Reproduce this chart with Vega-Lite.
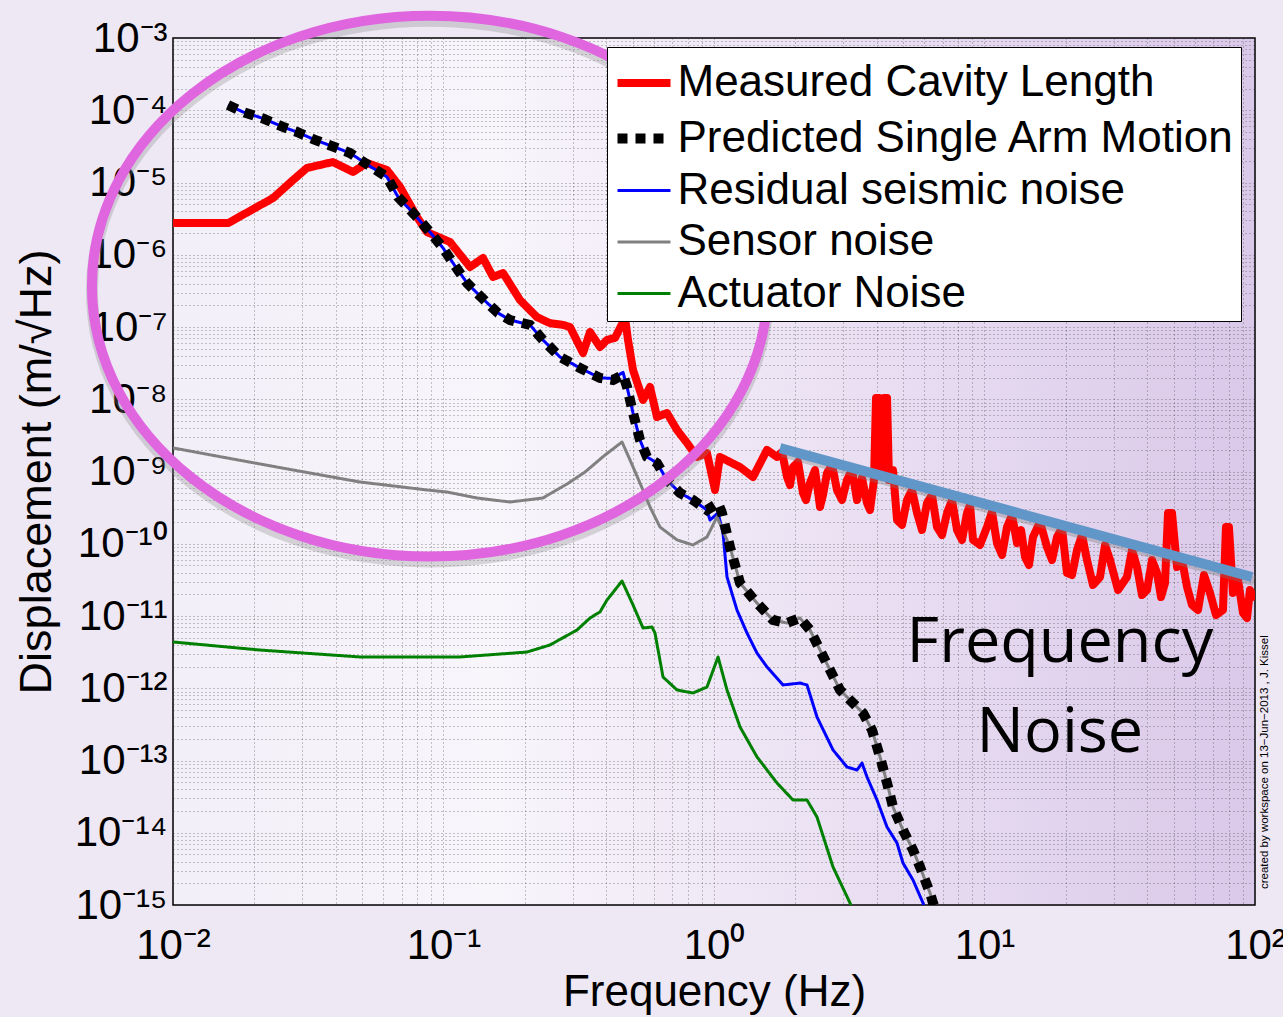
{
  "$schema": "https://vega.github.io/schema/vega-lite/v6.json",
  "width": 1082,
  "height": 867,
  "autosize": {"type": "none"},
  "padding": {"left": 173, "top": 38, "right": 28, "bottom": 112},
  "background": "#EEE7F4",
  "config": {
    "view": {
      "stroke": "#000000",
      "strokeWidth": 1.5,
      "fill": {"gradient": "linear", "x1": 0, "y1": 0, "x2": 1, "y2": 0,
        "stops": [{"offset": 0, "color": "#F3EFF8"}, {"offset": 0.3, "color": "#F8F5FB"}, {"offset": 1, "color": "#DAC8E9"}]}
    },
    "font": "Liberation Sans"
  },
  "datasets": {
    "curves": [
      {"s":"Measured Cavity Length","f":0.01,"v":2.75e-6},
      {"s":"Measured Cavity Length","f":0.016,"v":2.75e-6},
      {"s":"Measured Cavity Length","f":0.02344,"v":6.1e-6},
      {"s":"Measured Cavity Length","f":0.02777,"v":1.08e-5},
      {"s":"Measured Cavity Length","f":0.03129,"v":1.59e-5},
      {"s":"Measured Cavity Length","f":0.039,"v":1.92e-5},
      {"s":"Measured Cavity Length","f":0.0463,"v":1.4e-5},
      {"s":"Measured Cavity Length","f":0.0521,"v":1.86e-5},
      {"s":"Measured Cavity Length","f":0.0618,"v":1.49e-5},
      {"s":"Measured Cavity Length","f":0.0691,"v":8.67e-6},
      {"s":"Measured Cavity Length","f":0.0798,"v":3.33e-6},
      {"s":"Measured Cavity Length","f":0.0869,"v":2.06e-6},
      {"s":"Measured Cavity Length","f":0.1057,"v":1.5e-6},
      {"s":"Measured Cavity Length","f":0.1253,"v":6.76e-7},
      {"s":"Measured Cavity Length","f":0.14,"v":9.01e-7},
      {"s":"Measured Cavity Length","f":0.1524,"v":4.92e-7},
      {"s":"Measured Cavity Length","f":0.166,"v":5.58e-7},
      {"s":"Measured Cavity Length","f":0.1918,"v":2.36e-7},
      {"s":"Measured Cavity Length","f":0.2216,"v":1.37e-7},
      {"s":"Measured Cavity Length","f":0.2475,"v":1.13e-7},
      {"s":"Measured Cavity Length","f":0.2765,"v":1.07e-7},
      {"s":"Measured Cavity Length","f":0.2936,"v":1.0e-7},
      {"s":"Measured Cavity Length","f":0.328,"v":4.36e-8},
      {"s":"Measured Cavity Length","f":0.348,"v":8.53e-8},
      {"s":"Measured Cavity Length","f":0.379,"v":5.28e-8},
      {"s":"Measured Cavity Length","f":0.402,"v":6.61e-8},
      {"s":"Measured Cavity Length","f":0.4305,"v":7.05e-8},
      {"s":"Measured Cavity Length","f":0.469,"v":1.33e-7},
      {"s":"Measured Cavity Length","f":0.481,"v":6.61e-8},
      {"s":"Measured Cavity Length","f":0.502,"v":2.54e-8},
      {"s":"Measured Cavity Length","f":0.5465,"v":9.77e-9},
      {"s":"Measured Cavity Length","f":0.58,"v":1.48e-8},
      {"s":"Measured Cavity Length","f":0.6155,"v":5.68e-9},
      {"s":"Measured Cavity Length","f":0.67,"v":6.45e-9},
      {"s":"Measured Cavity Length","f":0.73,"v":3.75e-9},
      {"s":"Measured Cavity Length","f":0.795,"v":2.48e-9},
      {"s":"Measured Cavity Length","f":0.8653,"v":1.59e-9},
      {"s":"Measured Cavity Length","f":0.942,"v":1.8e-9},
      {"s":"Measured Cavity Length","f":1.0085,"v":5.55e-10},
      {"s":"Measured Cavity Length","f":1.052,"v":1.59e-9},
      {"s":"Measured Cavity Length","f":1.248,"v":1.15e-9},
      {"s":"Measured Cavity Length","f":1.394,"v":8.39e-10},
      {"s":"Measured Cavity Length","f":1.57,"v":1.99e-9},
      {"s":"Measured Cavity Length","f":1.71,"v":1.59e-9},
      {"s":"Measured Cavity Length","f":1.784,"v":1.862e-9},
      {"s":"Measured Cavity Length","f":1.862,"v":8.39e-10},
      {"s":"Measured Cavity Length","f":1.91,"v":6.5e-10},
      {"s":"Measured Cavity Length","f":1.959,"v":1.15e-9},
      {"s":"Measured Cavity Length","f":2.045,"v":1.353e-9},
      {"s":"Measured Cavity Length","f":2.133,"v":5.04e-10},
      {"s":"Measured Cavity Length","f":2.188,"v":4.03e-10},
      {"s":"Measured Cavity Length","f":2.264,"v":6.93e-10},
      {"s":"Measured Cavity Length","f":2.363,"v":1.048e-9},
      {"s":"Measured Cavity Length","f":2.466,"v":3.23e-10},
      {"s":"Measured Cavity Length","f":2.529,"v":4.73e-10},
      {"s":"Measured Cavity Length","f":2.617,"v":9.53e-10},
      {"s":"Measured Cavity Length","f":2.731,"v":1.23e-9},
      {"s":"Measured Cavity Length","f":2.849,"v":5.55e-10},
      {"s":"Measured Cavity Length","f":2.973,"v":4.03e-10},
      {"s":"Measured Cavity Length","f":3.102,"v":7.63e-10},
      {"s":"Measured Cavity Length","f":3.237,"v":1.048e-9},
      {"s":"Measured Cavity Length","f":3.379,"v":4.03e-10},
      {"s":"Measured Cavity Length","f":3.525,"v":8.13e-10},
      {"s":"Measured Cavity Length","f":3.679,"v":3.66e-10},
      {"s":"Measured Cavity Length","f":3.773,"v":2.93e-10},
      {"s":"Measured Cavity Length","f":3.904,"v":7.63e-10},
      {"s":"Measured Cavity Length","f":3.971,"v":1.04e-8},
      {"s":"Measured Cavity Length","f":4.074,"v":1.04e-8},
      {"s":"Measured Cavity Length","f":4.145,"v":8.94e-10},
      {"s":"Measured Cavity Length","f":4.252,"v":1.04e-8},
      {"s":"Measured Cavity Length","f":4.362,"v":1.04e-8},
      {"s":"Measured Cavity Length","f":4.436,"v":7.63e-10},
      {"s":"Measured Cavity Length","f":4.59,"v":1.048e-9},
      {"s":"Measured Cavity Length","f":4.749,"v":2.13e-10},
      {"s":"Measured Cavity Length","f":4.955,"v":1.82e-10},
      {"s":"Measured Cavity Length","f":5.17,"v":4.03e-10},
      {"s":"Measured Cavity Length","f":5.395,"v":5.55e-10},
      {"s":"Measured Cavity Length","f":5.631,"v":2.66e-10},
      {"s":"Measured Cavity Length","f":5.875,"v":1.55e-10},
      {"s":"Measured Cavity Length","f":6.131,"v":3.66e-10},
      {"s":"Measured Cavity Length","f":6.395,"v":4.73e-10},
      {"s":"Measured Cavity Length","f":6.674,"v":1.7e-10},
      {"s":"Measured Cavity Length","f":6.965,"v":1.32e-10},
      {"s":"Measured Cavity Length","f":7.268,"v":2.66e-10},
      {"s":"Measured Cavity Length","f":7.585,"v":4.03e-10},
      {"s":"Measured Cavity Length","f":7.914,"v":1.55e-10},
      {"s":"Measured Cavity Length","f":8.258,"v":1.126e-10},
      {"s":"Measured Cavity Length","f":8.616,"v":2.66e-10},
      {"s":"Measured Cavity Length","f":8.84,"v":3.44e-10},
      {"s":"Measured Cavity Length","f":9.07,"v":1.13e-10},
      {"s":"Measured Cavity Length","f":9.625,"v":9.61e-11},
      {"s":"Measured Cavity Length","f":10.21,"v":1.7e-10},
      {"s":"Measured Cavity Length","f":10.66,"v":2.75e-10},
      {"s":"Measured Cavity Length","f":11.12,"v":1.02e-10},
      {"s":"Measured Cavity Length","f":11.61,"v":6.99e-11},
      {"s":"Measured Cavity Length","f":12.11,"v":1.7e-10},
      {"s":"Measured Cavity Length","f":12.64,"v":2.5e-10},
      {"s":"Measured Cavity Length","f":13.19,"v":1.02e-10},
      {"s":"Measured Cavity Length","f":13.65,"v":1.55e-10},
      {"s":"Measured Cavity Length","f":14.12,"v":6.55e-11},
      {"s":"Measured Cavity Length","f":14.6,"v":5.08e-11},
      {"s":"Measured Cavity Length","f":15.11,"v":1.24e-10},
      {"s":"Measured Cavity Length","f":16.04,"v":2.0e-10},
      {"s":"Measured Cavity Length","f":17.02,"v":9.02e-11},
      {"s":"Measured Cavity Length","f":17.77,"v":5.96e-11},
      {"s":"Measured Cavity Length","f":18.54,"v":1.24e-10},
      {"s":"Measured Cavity Length","f":19.34,"v":1.65e-10},
      {"s":"Measured Cavity Length","f":20.18,"v":3.94e-11},
      {"s":"Measured Cavity Length","f":21.06,"v":3.69e-11},
      {"s":"Measured Cavity Length","f":21.98,"v":8.19e-11},
      {"s":"Measured Cavity Length","f":22.94,"v":1.32e-10},
      {"s":"Measured Cavity Length","f":23.93,"v":5.96e-11},
      {"s":"Measured Cavity Length","f":25.18,"v":2.69e-11},
      {"s":"Measured Cavity Length","f":26.73,"v":3.46e-11},
      {"s":"Measured Cavity Length","f":27.9,"v":9.61e-11},
      {"s":"Measured Cavity Length","f":29.11,"v":5.96e-11},
      {"s":"Measured Cavity Length","f":31.16,"v":2.29e-11},
      {"s":"Measured Cavity Length","f":33.63,"v":3.46e-11},
      {"s":"Measured Cavity Length","f":35.1,"v":8.19e-11},
      {"s":"Measured Cavity Length","f":36.63,"v":4.76e-11},
      {"s":"Measured Cavity Length","f":38.22,"v":1.95e-11},
      {"s":"Measured Cavity Length","f":39.89,"v":2.29e-11},
      {"s":"Measured Cavity Length","f":41.63,"v":5.96e-11},
      {"s":"Measured Cavity Length","f":43.43,"v":3.94e-11},
      {"s":"Measured Cavity Length","f":44.93,"v":1.83e-11},
      {"s":"Measured Cavity Length","f":46.49,"v":2.86e-11},
      {"s":"Measured Cavity Length","f":47.69,"v":2.66e-10},
      {"s":"Measured Cavity Length","f":49.34,"v":2.66e-10},
      {"s":"Measured Cavity Length","f":51.49,"v":4.76e-11},
      {"s":"Measured Cavity Length","f":53.74,"v":5.96e-11},
      {"s":"Measured Cavity Length","f":56.08,"v":2.52e-11},
      {"s":"Measured Cavity Length","f":58.5,"v":1.42e-11},
      {"s":"Measured Cavity Length","f":61.54,"v":1.21e-11},
      {"s":"Measured Cavity Length","f":64.78,"v":3.69e-11},
      {"s":"Measured Cavity Length","f":68.19,"v":2.08e-11},
      {"s":"Measured Cavity Length","f":71.77,"v":1.03e-11},
      {"s":"Measured Cavity Length","f":76.14,"v":1.21e-11},
      {"s":"Measured Cavity Length","f":78.1,"v":1.7e-10},
      {"s":"Measured Cavity Length","f":80.1,"v":1.7e-10},
      {"s":"Measured Cavity Length","f":82.9,"v":2.08e-11},
      {"s":"Measured Cavity Length","f":86.55,"v":3.15e-11},
      {"s":"Measured Cavity Length","f":90.3,"v":1.1e-11},
      {"s":"Measured Cavity Length","f":93.43,"v":9.38e-12},
      {"s":"Measured Cavity Length","f":95.8,"v":2.29e-11},
      {"s":"Measured Cavity Length","f":100,"v":1.66e-11},

      {"s":"Predicted Single Arm Motion","f":0.01597,"v":1.182e-4},
      {"s":"Predicted Single Arm Motion","f":0.01815,"v":9.46e-5},
      {"s":"Predicted Single Arm Motion","f":0.0215,"v":7.72e-5},
      {"s":"Predicted Single Arm Motion","f":0.02551,"v":5.87e-5},
      {"s":"Predicted Single Arm Motion","f":0.02873,"v":5.0e-5},
      {"s":"Predicted Single Arm Motion","f":0.0335,"v":3.88e-5},
      {"s":"Predicted Single Arm Motion","f":0.0404,"v":3.0e-5},
      {"s":"Predicted Single Arm Motion","f":0.0451,"v":2.56e-5},
      {"s":"Predicted Single Arm Motion","f":0.0526,"v":1.75e-5},
      {"s":"Predicted Single Arm Motion","f":0.0618,"v":1.19e-5},
      {"s":"Predicted Single Arm Motion","f":0.0679,"v":6.3e-6},
      {"s":"Predicted Single Arm Motion","f":0.0784,"v":3.55e-6},
      {"s":"Predicted Single Arm Motion","f":0.0891,"v":2.06e-6},
      {"s":"Predicted Single Arm Motion","f":0.0996,"v":1.24e-6},
      {"s":"Predicted Single Arm Motion","f":0.1084,"v":7.69e-7},
      {"s":"Predicted Single Arm Motion","f":0.1222,"v":4.06e-7},
      {"s":"Predicted Single Arm Motion","f":0.1388,"v":2.52e-7},
      {"s":"Predicted Single Arm Motion","f":0.1591,"v":1.56e-7},
      {"s":"Predicted Single Arm Motion","f":0.1761,"v":1.25e-7},
      {"s":"Predicted Single Arm Motion","f":0.2088,"v":1.066e-7},
      {"s":"Predicted Single Arm Motion","f":0.2332,"v":6.61e-8},
      {"s":"Predicted Single Arm Motion","f":0.2696,"v":3.84e-8},
      {"s":"Predicted Single Arm Motion","f":0.3196,"v":2.71e-8},
      {"s":"Predicted Single Arm Motion","f":0.379,"v":1.97e-8},
      {"s":"Predicted Single Arm Motion","f":0.4231,"v":1.85e-8},
      {"s":"Predicted Single Arm Motion","f":0.4611,"v":2.17e-8},
      {"s":"Predicted Single Arm Motion","f":0.477,"v":1.48e-8},
      {"s":"Predicted Single Arm Motion","f":0.502,"v":6.45e-9},
      {"s":"Predicted Single Arm Motion","f":0.5325,"v":2.73e-9},
      {"s":"Predicted Single Arm Motion","f":0.5651,"v":1.59e-9},
      {"s":"Predicted Single Arm Motion","f":0.6155,"v":1.31e-9},
      {"s":"Predicted Single Arm Motion","f":0.67,"v":7.63e-10},
      {"s":"Predicted Single Arm Motion","f":0.7486,"v":5.04e-10},
      {"s":"Predicted Single Arm Motion","f":0.8364,"v":4.03e-10},
      {"s":"Predicted Single Arm Motion","f":0.942,"v":2.93e-10},
      {"s":"Predicted Single Arm Motion","f":1.035,"v":3.66e-10},
      {"s":"Predicted Single Arm Motion","f":1.07,"v":2.67e-10},
      {"s":"Predicted Single Arm Motion","f":1.146,"v":9.02e-11},
      {"s":"Predicted Single Arm Motion","f":1.248,"v":2.86e-11},
      {"s":"Predicted Single Arm Motion","f":1.442,"v":1.51e-11},
      {"s":"Predicted Single Arm Motion","f":1.652,"v":8.8e-12},
      {"s":"Predicted Single Arm Motion","f":1.862,"v":8.0e-12},
      {"s":"Predicted Single Arm Motion","f":2.079,"v":9.38e-12},
      {"s":"Predicted Single Arm Motion","f":2.264,"v":6.4e-12},
      {"s":"Predicted Single Arm Motion","f":2.466,"v":3.38e-12},
      {"s":"Predicted Single Arm Motion","f":2.685,"v":1.79e-12},
      {"s":"Predicted Single Arm Motion","f":2.923,"v":9.46e-13},
      {"s":"Predicted Single Arm Motion","f":3.265,"v":6.25e-13},
      {"s":"Predicted Single Arm Motion","f":3.555,"v":4.54e-13},
      {"s":"Predicted Single Arm Motion","f":3.838,"v":2.64e-13},
      {"s":"Predicted Single Arm Motion","f":4.11,"v":1.12e-13},
      {"s":"Predicted Single Arm Motion","f":4.362,"v":4.88e-14},
      {"s":"Predicted Single Arm Motion","f":4.589,"v":2.27e-14},
      {"s":"Predicted Single Arm Motion","f":4.997,"v":1.09e-14},
      {"s":"Predicted Single Arm Motion","f":5.441,"v":5.77e-15},
      {"s":"Predicted Single Arm Motion","f":5.775,"v":3.36e-15},
      {"s":"Predicted Single Arm Motion","f":6.289,"v":1.47e-15},
      {"s":"Predicted Single Arm Motion","f":6.452,"v":1.066e-15},
      {"s":"Predicted Single Arm Motion","f":6.73,"v":7.27e-16},

      {"s":"Residual seismic noise","f":0.01597,"v":1.182e-4},
      {"s":"Residual seismic noise","f":0.01815,"v":9.46e-5},
      {"s":"Residual seismic noise","f":0.0215,"v":7.72e-5},
      {"s":"Residual seismic noise","f":0.02551,"v":5.87e-5},
      {"s":"Residual seismic noise","f":0.02873,"v":5.0e-5},
      {"s":"Residual seismic noise","f":0.0335,"v":3.88e-5},
      {"s":"Residual seismic noise","f":0.0404,"v":3.0e-5},
      {"s":"Residual seismic noise","f":0.0451,"v":2.56e-5},
      {"s":"Residual seismic noise","f":0.0526,"v":1.75e-5},
      {"s":"Residual seismic noise","f":0.0618,"v":1.19e-5},
      {"s":"Residual seismic noise","f":0.0679,"v":6.3e-6},
      {"s":"Residual seismic noise","f":0.0784,"v":3.55e-6},
      {"s":"Residual seismic noise","f":0.0891,"v":2.06e-6},
      {"s":"Residual seismic noise","f":0.0996,"v":1.24e-6},
      {"s":"Residual seismic noise","f":0.1084,"v":7.69e-7},
      {"s":"Residual seismic noise","f":0.1222,"v":4.06e-7},
      {"s":"Residual seismic noise","f":0.1388,"v":2.52e-7},
      {"s":"Residual seismic noise","f":0.1591,"v":1.56e-7},
      {"s":"Residual seismic noise","f":0.1761,"v":1.25e-7},
      {"s":"Residual seismic noise","f":0.2088,"v":1.066e-7},
      {"s":"Residual seismic noise","f":0.2332,"v":6.61e-8},
      {"s":"Residual seismic noise","f":0.2696,"v":3.84e-8},
      {"s":"Residual seismic noise","f":0.3196,"v":2.71e-8},
      {"s":"Residual seismic noise","f":0.379,"v":1.97e-8},
      {"s":"Residual seismic noise","f":0.4231,"v":1.95e-8},
      {"s":"Residual seismic noise","f":0.4611,"v":2.35e-8},
      {"s":"Residual seismic noise","f":0.477,"v":1.48e-8},
      {"s":"Residual seismic noise","f":0.502,"v":6.45e-9},
      {"s":"Residual seismic noise","f":0.5325,"v":2.73e-9},
      {"s":"Residual seismic noise","f":0.5651,"v":1.59e-9},
      {"s":"Residual seismic noise","f":0.6155,"v":1.31e-9},
      {"s":"Residual seismic noise","f":0.67,"v":7.63e-10},
      {"s":"Residual seismic noise","f":0.7486,"v":5.04e-10},
      {"s":"Residual seismic noise","f":0.8364,"v":4.03e-10},
      {"s":"Residual seismic noise","f":0.942,"v":2.93e-10},
      {"s":"Residual seismic noise","f":0.9665,"v":2.13e-10},
      {"s":"Residual seismic noise","f":1.035,"v":2.67e-10},
      {"s":"Residual seismic noise","f":1.08,"v":1.41e-10},
      {"s":"Residual seismic noise","f":1.117,"v":3.47e-11},
      {"s":"Residual seismic noise","f":1.216,"v":1.21e-11},
      {"s":"Residual seismic noise","f":1.324,"v":5.82e-12},
      {"s":"Residual seismic noise","f":1.442,"v":3.07e-12},
      {"s":"Residual seismic noise","f":1.57,"v":1.97e-12},
      {"s":"Residual seismic noise","f":1.799,"v":1.11e-12},
      {"s":"Residual seismic noise","f":2.079,"v":1.18e-12},
      {"s":"Residual seismic noise","f":2.207,"v":1.11e-12},
      {"s":"Residual seismic noise","f":2.403,"v":4.0e-13},
      {"s":"Residual seismic noise","f":2.754,"v":1.4e-13},
      {"s":"Residual seismic noise","f":3.102,"v":8.13e-14},
      {"s":"Residual seismic noise","f":3.379,"v":7.39e-14},
      {"s":"Residual seismic noise","f":3.525,"v":9.23e-14},
      {"s":"Residual seismic noise","f":3.679,"v":5.91e-14},
      {"s":"Residual seismic noise","f":4.005,"v":2.84e-14},
      {"s":"Residual seismic noise","f":4.362,"v":1.2e-14},
      {"s":"Residual seismic noise","f":4.748,"v":7.21e-15},
      {"s":"Residual seismic noise","f":4.997,"v":3.81e-15},
      {"s":"Residual seismic noise","f":5.441,"v":2.22e-15},
      {"s":"Residual seismic noise","f":5.924,"v":1.066e-15},
      {"s":"Residual seismic noise","f":6.13,"v":7.27e-16},

      {"s":"Sensor noise","f":0.01,"v":2.12e-9},
      {"s":"Sensor noise","f":0.01584,"v":1.54e-9},
      {"s":"Sensor noise","f":0.02777,"v":1.05e-9},
      {"s":"Sensor noise","f":0.0491,"v":7.16e-10},
      {"s":"Sensor noise","f":0.0869,"v":5.55e-10},
      {"s":"Sensor noise","f":0.103,"v":5.2e-10},
      {"s":"Sensor noise","f":0.133,"v":4.3e-10},
      {"s":"Sensor noise","f":0.1761,"v":3.78e-10},
      {"s":"Sensor noise","f":0.2332,"v":4.3e-10},
      {"s":"Sensor noise","f":0.2861,"v":6.71e-10},
      {"s":"Sensor noise","f":0.3336,"v":9.84e-10},
      {"s":"Sensor noise","f":0.3954,"v":1.69e-9},
      {"s":"Sensor noise","f":0.4571,"v":2.56e-9},
      {"s":"Sensor noise","f":0.4894,"v":1.44e-9},
      {"s":"Sensor noise","f":0.5325,"v":6.93e-10},
      {"s":"Sensor noise","f":0.58,"v":3.23e-10},
      {"s":"Sensor noise","f":0.6317,"v":1.7e-10},
      {"s":"Sensor noise","f":0.73,"v":1.13e-10},
      {"s":"Sensor noise","f":0.8364,"v":9.61e-11},
      {"s":"Sensor noise","f":0.942,"v":1.24e-10},
      {"s":"Sensor noise","f":1.026,"v":2.35e-10},
      {"s":"Sensor noise","f":1.146,"v":9.02e-11},
      {"s":"Sensor noise","f":1.248,"v":2.86e-11},
      {"s":"Sensor noise","f":1.442,"v":1.51e-11},
      {"s":"Sensor noise","f":1.652,"v":8.8e-12},
      {"s":"Sensor noise","f":1.862,"v":8.0e-12},
      {"s":"Sensor noise","f":2.079,"v":9.38e-12},
      {"s":"Sensor noise","f":2.264,"v":6.4e-12},
      {"s":"Sensor noise","f":2.466,"v":3.38e-12},
      {"s":"Sensor noise","f":2.685,"v":1.79e-12},
      {"s":"Sensor noise","f":2.923,"v":9.46e-13},
      {"s":"Sensor noise","f":3.265,"v":6.25e-13},
      {"s":"Sensor noise","f":3.555,"v":4.54e-13},
      {"s":"Sensor noise","f":3.838,"v":2.64e-13},
      {"s":"Sensor noise","f":4.11,"v":1.12e-13},
      {"s":"Sensor noise","f":4.362,"v":4.88e-14},
      {"s":"Sensor noise","f":4.589,"v":2.27e-14},
      {"s":"Sensor noise","f":4.997,"v":1.09e-14},
      {"s":"Sensor noise","f":5.441,"v":5.77e-15},
      {"s":"Sensor noise","f":5.775,"v":3.36e-15},
      {"s":"Sensor noise","f":6.289,"v":1.47e-15},
      {"s":"Sensor noise","f":6.452,"v":1.066e-15},
      {"s":"Sensor noise","f":6.73,"v":7.27e-16},

      {"s":"Actuator Noise","f":0.01,"v":4.37e-12},
      {"s":"Actuator Noise","f":0.02097,"v":3.38e-12},
      {"s":"Actuator Noise","f":0.0491,"v":2.71e-12},
      {"s":"Actuator Noise","f":0.1151,"v":2.71e-12},
      {"s":"Actuator Noise","f":0.2035,"v":3.17e-12},
      {"s":"Actuator Noise","f":0.2475,"v":3.97e-12},
      {"s":"Actuator Noise","f":0.3115,"v":6.4e-12},
      {"s":"Actuator Noise","f":0.348,"v":9.37e-12},
      {"s":"Actuator Noise","f":0.379,"v":1.14e-11},
      {"s":"Actuator Noise","f":0.402,"v":1.66e-11},
      {"s":"Actuator Noise","f":0.4571,"v":3.05e-11},
      {"s":"Actuator Noise","f":0.502,"v":1.42e-11},
      {"s":"Actuator Noise","f":0.5465,"v":6.82e-12},
      {"s":"Actuator Noise","f":0.59,"v":7.04e-12},
      {"s":"Actuator Noise","f":0.605,"v":5.82e-12},
      {"s":"Actuator Noise","f":0.648,"v":1.43e-12},
      {"s":"Actuator Noise","f":0.73,"v":9.46e-13},
      {"s":"Actuator Noise","f":0.8364,"v":8.6e-13},
      {"s":"Actuator Noise","f":0.942,"v":1.04e-12},
      {"s":"Actuator Noise","f":1.035,"v":2.71e-12},
      {"s":"Actuator Noise","f":1.117,"v":9.46e-13},
      {"s":"Actuator Noise","f":1.248,"v":2.91e-13},
      {"s":"Actuator Noise","f":1.442,"v":1.12e-13},
      {"s":"Actuator Noise","f":1.71,"v":4.88e-14},
      {"s":"Actuator Noise","f":1.959,"v":2.84e-14},
      {"s":"Actuator Noise","f":2.207,"v":2.84e-14},
      {"s":"Actuator Noise","f":2.403,"v":1.65e-14},
      {"s":"Actuator Noise","f":2.754,"v":3.36e-15},
      {"s":"Actuator Noise","f":3.183,"v":1.066e-15},
      {"s":"Actuator Noise","f":3.32,"v":7.27e-16}
    ],
    "trendline": [{"f": 1.754, "v": 2.11e-9}, {"f": 97.5, "v": 3.47e-11}],
    "ellipse": [{"f": 0.0891, "v": 3.69e-7}],
    "bigtext": [{"t": "Frequency", "f": 19.0, "v": 2.31e-12}, {"t": "Noise", "f": 19.0, "v": 1.31e-13}],
    "credit": [{"t": "created by workspace on 13\u2212Jun\u22122013 , J. Kissel", "f": 108.9, "v": 9.5e-14}]
  },
  "encoding": {
    "x": {
      "field": "f", "type": "quantitative",
      "scale": {"type": "log", "domain": [0.01, 100], "nice": false},
      "axis": {
        "title": "Frequency (Hz)",
        "values": [0.01,0.02,0.03,0.04,0.05,0.06,0.07,0.08,0.09,0.1,0.2,0.3,0.4,0.5,0.6,0.7,0.8,0.9,1,2,3,4,5,6,7,8,9,10,20,30,40,50,60,70,80,90,100],
        "labelExpr": "datum.value==0.01?'10⁻²':datum.value==0.1?'10⁻¹':datum.value==1?'10⁰':datum.value==10?'10¹':datum.value==100?'10²':''",
        "grid": true, "gridDash": [1, 3], "gridColor": "#333333", "gridOpacity": 0.55, "gridWidth": 1,
        "ticks": false, "domain": false,
        "labelFont": "Liberation Sans", "labelFontSize": 42, "labelColor": "#000000", "labelPadding": 20,
        "labelFlush": false, "labelOverlap": false, "labelBound": false,
        "titleFont": "Liberation Sans", "titleFontSize": 44, "titleFontWeight": "normal", "titleColor": "#000000",
        "titleY": 100, "titleBaseline": "alphabetic"
      }
    },
    "y": {
      "field": "v", "type": "quantitative",
      "scale": {"type": "log", "domain": [1e-15, 1e-3], "nice": false},
      "axis": {
        "title": "Displacement (m/√Hz)",
        "values": [1e-15,2e-15,3e-15,4e-15,5e-15,6e-15,7e-15,8e-15,9e-15,1e-14,2e-14,3e-14,4e-14,5e-14,6e-14,7e-14,8e-14,9e-14,1e-13,2e-13,3e-13,4e-13,5e-13,6e-13,7e-13,8e-13,9e-13,1e-12,2e-12,3e-12,4e-12,5e-12,6e-12,7e-12,8e-12,9e-12,1e-11,2e-11,3e-11,4e-11,5e-11,6e-11,7e-11,8e-11,9e-11,1e-10,2e-10,3e-10,4e-10,5e-10,6e-10,7e-10,8e-10,9e-10,1e-9,2e-9,3e-9,4e-9,5e-9,6e-9,7e-9,8e-9,9e-9,1e-8,2e-8,3e-8,4e-8,5e-8,6e-8,7e-8,8e-8,9e-8,1e-7,2e-7,3e-7,4e-7,5e-7,6e-7,7e-7,8e-7,9e-7,1e-6,2e-6,3e-6,4e-6,5e-6,6e-6,7e-6,8e-6,9e-6,1e-5,2e-5,3e-5,4e-5,5e-5,6e-5,7e-5,8e-5,9e-5,1e-4,2e-4,3e-4,4e-4,5e-4,6e-4,7e-4,8e-4,9e-4,1e-3],
        "labelExpr": "datum.value==1e-3?'10⁻³':datum.value==1e-4?'10⁻⁴':datum.value==1e-5?'10⁻⁵':datum.value==1e-6?'10⁻⁶':datum.value==1e-7?'10⁻⁷':datum.value==1e-8?'10⁻⁸':datum.value==1e-9?'10⁻⁹':datum.value==1e-10?'10⁻¹⁰':datum.value==1e-11?'10⁻¹¹':datum.value==1e-12?'10⁻¹²':datum.value==1e-13?'10⁻¹³':datum.value==1e-14?'10⁻¹⁴':datum.value==1e-15?'10⁻¹⁵':''",
        "grid": true, "gridDash": [1, 3], "gridColor": "#333333", "gridOpacity": 0.55, "gridWidth": 1,
        "ticks": false, "domain": false,
        "labelFont": "Liberation Sans", "labelFontSize": 42, "labelColor": "#000000", "labelPadding": 6,
        "labelFlush": false, "labelOverlap": false, "labelBound": false,
        "titleFont": "Liberation Sans", "titleFontSize": 45, "titleFontWeight": "normal", "titleColor": "#000000",
        "titleX": -123, "titleY": 433.5, "titleBaseline": "alphabetic", "titleAlign": "center", "titleAngle": 270
      }
    }
  },
  "layer": [
    {
      "data": {"name": "curves"},
      "encoding": {
        "color": {
          "field": "s", "type": "nominal",
          "scale": {"domain": ["Measured Cavity Length", "Predicted Single Arm Motion", "Residual seismic noise", "Sensor noise", "Actuator Noise"],
                    "range": ["#FF0000", "#000000", "#0000FF", "#808080", "#008000"]},
          "legend": {"title": null, "orient": "none", "legendX": 434, "legendY": 9, "direction": "vertical",
                     "symbolType": "stroke", "symbolSize": 2809, "labelFont": "Liberation Sans", "labelFontSize": 44,
                     "labelColor": "#000000", "labelLimit": 1000, "labelOffset": 2, "rowPadding": 1.5, "padding": 5.5,
                     "fillColor": "#FFFFFF", "strokeColor": "#000000"}
        },
        "strokeWidth": {
          "field": "s", "type": "nominal",
          "scale": {"type": "ordinal", "domain": ["Measured Cavity Length", "Predicted Single Arm Motion", "Residual seismic noise", "Sensor noise", "Actuator Noise"],
                    "range": [8, 10, 3, 3, 3]},
          "legend": {"title": null, "orient": "none", "legendX": 434, "legendY": 9, "direction": "vertical",
                     "symbolType": "stroke", "symbolSize": 2809, "labelFont": "Liberation Sans", "labelFontSize": 44,
                     "labelColor": "#000000", "labelLimit": 1000, "labelOffset": 2, "rowPadding": 1.5, "padding": 5.5,
                     "fillColor": "#FFFFFF", "strokeColor": "#000000"}
        },
        "strokeDash": {
          "field": "s", "type": "nominal",
          "scale": {"domain": ["Measured Cavity Length", "Predicted Single Arm Motion", "Residual seismic noise", "Sensor noise", "Actuator Noise"],
                    "range": [[1, 0], [10, 8], [1, 0], [1, 0], [1, 0]]},
          "legend": {"title": null, "orient": "none", "legendX": 434, "legendY": 9, "direction": "vertical",
                     "symbolType": "stroke", "symbolSize": 2809, "labelFont": "Liberation Sans", "labelFontSize": 44,
                     "labelColor": "#000000", "labelLimit": 1000, "labelOffset": 2, "rowPadding": 1.5, "padding": 5.5,
                     "fillColor": "#FFFFFF", "strokeColor": "#000000"}
        }
      },
      "layer": [
        {"transform": [{"filter": "datum.s === 'Measured Cavity Length'"}], "mark": {"type": "line", "clip": true, "strokeJoin": "round", "strokeCap": "butt"}},
        {"transform": [{"filter": "datum.s === 'Residual seismic noise'"}], "mark": {"type": "line", "clip": true, "strokeJoin": "round"}},
        {"transform": [{"filter": "datum.s === 'Sensor noise'"}], "mark": {"type": "line", "clip": true, "strokeJoin": "round"}},
        {"transform": [{"filter": "datum.s === 'Actuator Noise'"}], "mark": {"type": "line", "clip": true, "strokeJoin": "round"}},
        {"transform": [{"filter": "datum.s === 'Predicted Single Arm Motion'"}], "mark": {"type": "line", "clip": true, "strokeJoin": "miter", "strokeCap": "butt"}}
      ]
    },
    {
      "data": {"name": "trendline"},
      "mark": {"type": "line", "color": "#777777", "opacity": 0.35, "strokeWidth": 10, "strokeCap": "butt", "xOffset": 2, "yOffset": 4}
    },
    {
      "data": {"name": "trendline"},
      "mark": {"type": "line", "color": "#6096C8", "strokeWidth": 10, "strokeCap": "butt"}
    },
    {
      "data": {"name": "ellipse"},
      "mark": {"type": "point", "filled": false, "clip": false, "stroke": "#888888", "opacity": 0.3, "strokeWidth": 12, "size": 456976, "yOffset": 5,
               "shape": "M-1,0C-1,-0.4418 -0.5523,-0.8 0,-0.8C0.5523,-0.8 1,-0.4418 1,0C1,0.4418 0.5523,0.8 0,0.8C-0.5523,0.8 -1,0.4418 -1,0Z"}
    },
    {
      "data": {"name": "ellipse"},
      "mark": {"type": "point", "filled": false, "clip": false, "stroke": "#E066DF", "opacity": 1, "strokeWidth": 10, "size": 456976,
               "shape": "M-1,0C-1,-0.4418 -0.5523,-0.8 0,-0.8C0.5523,-0.8 1,-0.4418 1,0C1,0.4418 0.5523,0.8 0,0.8C-0.5523,0.8 -1,0.4418 -1,0Z"}
    },
    {
      "data": {"name": "bigtext"},
      "mark": {"type": "text", "font": "Open Sans", "fontSize": 63, "align": "center", "baseline": "alphabetic", "color": "#000000"},
      "encoding": {"text": {"field": "t"}}
    },
    {
      "data": {"name": "credit"},
      "mark": {"type": "text", "font": "Liberation Sans", "fontSize": 11.5, "angle": 270, "align": "center", "baseline": "middle", "color": "#000000", "clip": false},
      "encoding": {"text": {"field": "t"}}
    }
  ]
}
